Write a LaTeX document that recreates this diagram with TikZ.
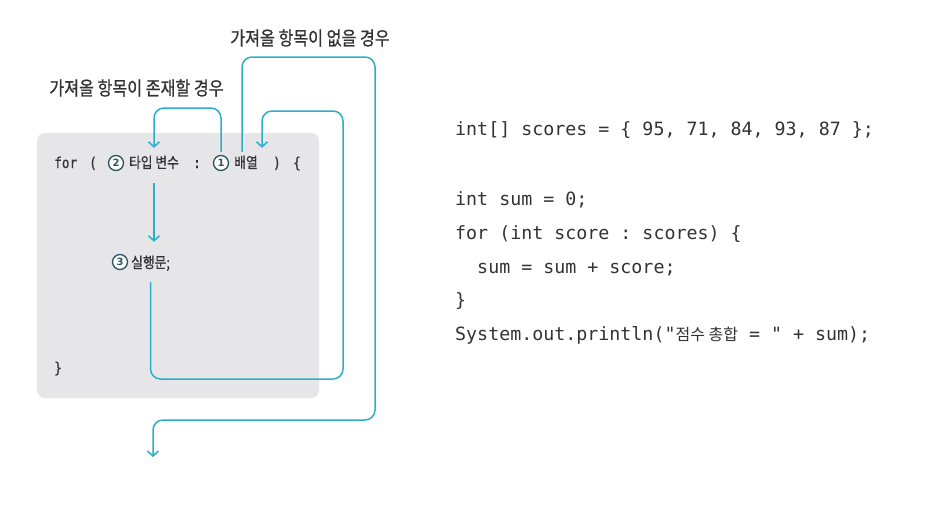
\documentclass[tikz,border=0pt]{standalone}
\usepackage{fontspec}
\newfontfamily\krf{Noto Sans CJK KR}
\newfontfamily\krc{Noto Sans CJK KR}[FakeStretch=0.85, FakeBold=0.8]
\newfontfamily\codefnt{DejaVu Sans Mono}
\newfontfamily\codec{DejaVu Sans Mono}[FakeStretch=0.85, FakeBold=0.8]
\newfontfamily\numfnt{DejaVu Sans}
\usetikzlibrary{arrows.meta}
\definecolor{flowc}{HTML}{2DAEC8}
\definecolor{boxc}{HTML}{E6E6E8}
\definecolor{txt}{HTML}{333333}
\definecolor{numc}{HTML}{2B5560}
\begin{document}
\frenchspacing
\begin{tikzpicture}[x=1pt,y=-1pt,
  lbl/.style={font=\krc\fontsize{19}{21}\selectfont, text=txt, inner sep=0pt},
  ltxt/.style={font=\krc\fontsize{15}{17}\selectfont, text=txt, anchor=base, inner sep=0pt, text height=11pt, text depth=3pt},
  lmono/.style={font=\codec\fontsize{15}{17}\selectfont, text=txt, anchor=base, inner sep=0pt, text height=11pt, text depth=3pt},
  num/.style={circle, draw=numc, line width=1.3pt, fill=white, inner sep=0pt, minimum size=15pt, font=\numfnt\bfseries\fontsize{10}{10}\selectfont, text=numc},
  codeln/.style={font=\codefnt\fontsize{18.3}{20}\selectfont, text=txt, anchor=base west, inner sep=0pt},
  flow/.style={draw=flowc, line width=1.5pt, rounded corners=10pt, -{Straight Barb[length=5pt,width=11pt]}}]
\fill[white] (0,0) rectangle (940,507);
\path[use as bounding box] (0,0) rectangle (940,507);
\fill[boxc, rounded corners=8pt] (37,133) rectangle (319,398);

% labels
\node[lbl] (lab1) at (136.5,88) {가져올 항목이 존재할 경우};
\node[lbl] (lab2) at (310,38) {가져올 항목이 없을 경우};

% for line
\node[lmono, anchor=base west] (forkw) at (54,168) {for};
\node[lmono] (lparen) at (93,168) {(};
\node[num] (c2) at (116,163) {2};
\node[ltxt] (typevar) at (154,168) {타입 변수};
\node[lmono] (colon) at (197,168) {:};
\node[num] (c1) at (221,163) {1};
\node[ltxt] (arr) at (246,168) {배열};
\node[lmono] (rparen) at (277,168) {)};
\node[lmono] (lbrace) at (297,168) {\{};
\node[num] (c3) at (120,262) {3};
\node[ltxt, anchor=base west] (stmt) at (131,268) {실행문;};
\node[lmono] (rbrace) at (58,373) {\}};

% code
\node[codeln] (l1) at (455,135) {int[] scores = \{ 95, 71, 84, 93, 87 \};};
\node[codeln] (l2) at (455,205) {int sum = 0;};
\node[codeln] (l3) at (455,239) {for (int score : scores) \{};
\node[codeln] (l4) at (455,273) {\hphantom{xx}sum = sum + score;};
\node[codeln] (l5) at (455,306.5) {\}};
\node[codeln] (l6) at (455,340) {System.out.println("{\krf\fontsize{16}{18}\selectfont 점수 총합} = " + sum);};

% arrows
\coordinate (k1) at (0,108);
\draw[flow] ([yshift=3pt]c1.north) |- (typevar.north |- k1) -- ([yshift=9pt]typevar.north);

\coordinate (tip2) at ([yshift=15pt]stmt.north);
\draw[flow] ([yshift=-12pt]typevar.south) -- (typevar.south |- tip2);

\coordinate (b3) at (343,379);
\coordinate (t3) at (343,111);
\draw[flow] ([yshift=-11pt]stmt.south) |- (b3) -- (t3) -| ([xshift=16pt,yshift=9pt]arr.north);

\coordinate (t4) at (375,57);
\coordinate (b4) at (375,420);
\coordinate (end4) at (153,457);
\draw[flow] ([xshift=-4pt,yshift=5pt]arr.north) |- (t4) -- (b4) -| (end4);
\end{tikzpicture}
\end{document}
